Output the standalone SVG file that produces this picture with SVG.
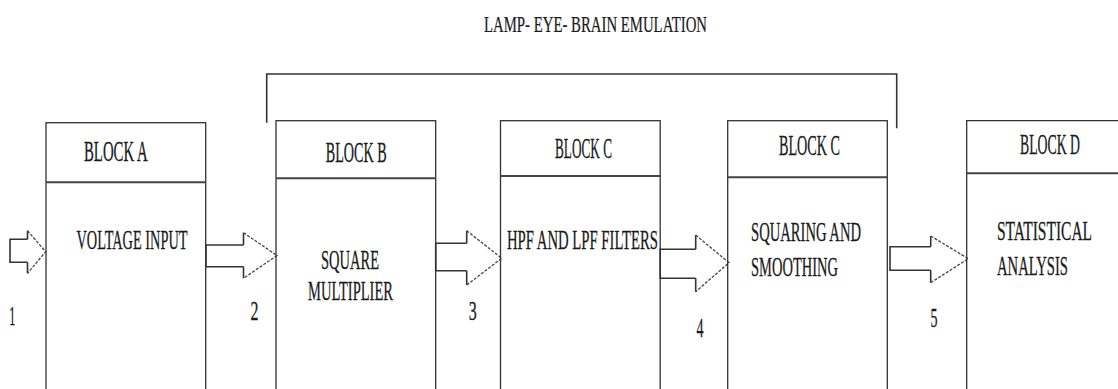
<svg xmlns="http://www.w3.org/2000/svg" width="1118" height="389" viewBox="0 0 1118 389">
  <style>
    .box { fill: none; stroke: #333; stroke-width: 1.3; }
    .div { stroke: #444; stroke-width: 2; }
    .t { font-family: "Liberation Serif", "Times New Roman", serif; font-size: 28px; fill: #1a1a1a; stroke: #1a1a1a; stroke-width: 0.3; }
    .h { font-family: "Liberation Serif", "Times New Roman", serif; font-size: 29px; fill: #1a1a1a; stroke: #1a1a1a; stroke-width: 0.3; }
    .n { font-family: "Liberation Serif", "Times New Roman", serif; font-size: 27px; fill: #1a1a1a; stroke: #1a1a1a; stroke-width: 0.3; }
    .title { font-family: "Liberation Serif", "Times New Roman", serif; font-size: 22.5px; fill: #1a1a1a; stroke: #1a1a1a; stroke-width: 0.2; }
    .shaft { fill: #fff; stroke: #333; stroke-width: 1.6; stroke-linejoin: miter; }
    .head { fill: none; stroke: #444; stroke-width: 1.3; stroke-dasharray: 3 1.5; }
    .bracket { fill: none; stroke: #333; stroke-width: 1.6; }
  </style>
  <rect width="1118" height="389" fill="#fff"/>

  <g id="emulation-group">
    <path class="bracket" d="M266.7,122.7 V74 H896.7 V128.3"/>
    <text class="title" x="484" y="31.5" textLength="223" lengthAdjust="spacingAndGlyphs">LAMP- EYE- BRAIN EMULATION</text>
  </g>

  <g id="connectors">
    <g id="arrow1">
      <path class="shaft" d="M27.5,239.3 H10 V262.3 H27.5"/>
      <path class="shaft" d="M27.5,239.3 V230.7 M27.5,262.3 V273.3"/>
      <path class="head" d="M27.5,230.7 L45.7,251.7 L27.5,273.3"/>
      <text class="n" x="12.2" y="325" text-anchor="middle" textLength="6" lengthAdjust="spacingAndGlyphs">1</text>
    </g>
    <g id="arrow2">
      <path class="shaft" d="M243.5,245 H206 V266.7 H243.5"/>
      <path class="shaft" d="M243.5,245 V232.7 M243.5,266.7 V278.3"/>
      <path class="head" d="M243.5,232.7 L277,255.5 L243.5,278.3"/>
      <text class="n" x="254.5" y="320" text-anchor="middle" textLength="8" lengthAdjust="spacingAndGlyphs">2</text>
    </g>
    <g id="arrow3">
      <path class="shaft" d="M466.7,243.3 H435.7 V270.7 H466.7"/>
      <path class="shaft" d="M466.7,243.3 V230.7 M466.7,270.7 V285"/>
      <path class="head" d="M466.7,230.7 L501.7,258.3 L466.7,285"/>
      <text class="n" x="472.8" y="319.5" text-anchor="middle" textLength="8" lengthAdjust="spacingAndGlyphs">3</text>
    </g>
    <g id="arrow4">
      <path class="shaft" d="M695.7,249.3 H660.2 V278.3 H695.7"/>
      <path class="shaft" d="M695.7,249.3 V235 M695.7,278.3 V291.7"/>
      <path class="head" d="M695.7,235 L729,262.7 L695.7,291.7"/>
      <text class="n" x="700" y="336.7" text-anchor="middle" textLength="7" lengthAdjust="spacingAndGlyphs">4</text>
    </g>
    <g id="arrow5">
      <path class="shaft" d="M930.7,246.7 H890 V270.3 H930.7"/>
      <path class="shaft" d="M930.7,246.7 V236 M930.7,270.3 V282.7"/>
      <path class="head" d="M930.7,236 L968.3,258.7 L930.7,282.7"/>
      <text class="n" x="934" y="327" text-anchor="middle" textLength="7" lengthAdjust="spacingAndGlyphs">5</text>
    </g>
  </g>

  <g id="block-a">
    <rect class="box" x="46" y="122.7" width="159.7" height="290"/>
    <line class="div" x1="46" y1="182.3" x2="205.7" y2="182.3"/>
    <text class="h" x="84" y="161" textLength="63.7" lengthAdjust="spacingAndGlyphs">BLOCK A</text>
    <text class="t" x="76.5" y="248.5" textLength="111" lengthAdjust="spacingAndGlyphs">VOLTAGE INPUT</text>
  </g>

  <g id="block-b">
    <rect class="box" x="276" y="120.7" width="159.7" height="290"/>
    <line class="div" x1="276" y1="178.3" x2="435.7" y2="178.3"/>
    <text class="h" x="325.7" y="161.5" textLength="61" lengthAdjust="spacingAndGlyphs">BLOCK B</text>
    <text class="t" x="321" y="269" textLength="58" lengthAdjust="spacingAndGlyphs">SQUARE</text>
    <text class="t" x="308" y="300" textLength="85" lengthAdjust="spacingAndGlyphs">MULTIPLIER</text>
  </g>

  <g id="block-c1">
    <rect class="box" x="500.5" y="120.7" width="159.7" height="290"/>
    <line class="div" x1="500.5" y1="176" x2="660.2" y2="176"/>
    <text class="h" x="555" y="158" textLength="57" lengthAdjust="spacingAndGlyphs">BLOCK C</text>
    <text class="t" x="507" y="249" textLength="151" lengthAdjust="spacingAndGlyphs">HPF AND LPF FILTERS</text>
  </g>

  <g id="block-c2">
    <rect class="box" x="727.7" y="120.7" width="159.6" height="290"/>
    <line class="div" x1="727.7" y1="177.3" x2="887.3" y2="177.3"/>
    <text class="h" x="779" y="155" textLength="61" lengthAdjust="spacingAndGlyphs">BLOCK C</text>
    <text class="t" x="751" y="241" textLength="110" lengthAdjust="spacingAndGlyphs">SQUARING AND</text>
    <text class="t" x="751" y="275.5" textLength="87" lengthAdjust="spacingAndGlyphs">SMOOTHING</text>
  </g>

  <g id="block-d">
    <path class="box" d="M966.7,400 V120.7 H1120"/>
    <line class="div" x1="966.7" y1="173.3" x2="1120" y2="173.3"/>
    <text class="h" x="1020" y="153.5" textLength="60" lengthAdjust="spacingAndGlyphs">BLOCK D</text>
    <text class="t" x="997" y="239.5" textLength="95" lengthAdjust="spacingAndGlyphs">STATISTICAL</text>
    <text class="t" x="997" y="275" textLength="71" lengthAdjust="spacingAndGlyphs">ANALYSIS</text>
  </g>
</svg>
